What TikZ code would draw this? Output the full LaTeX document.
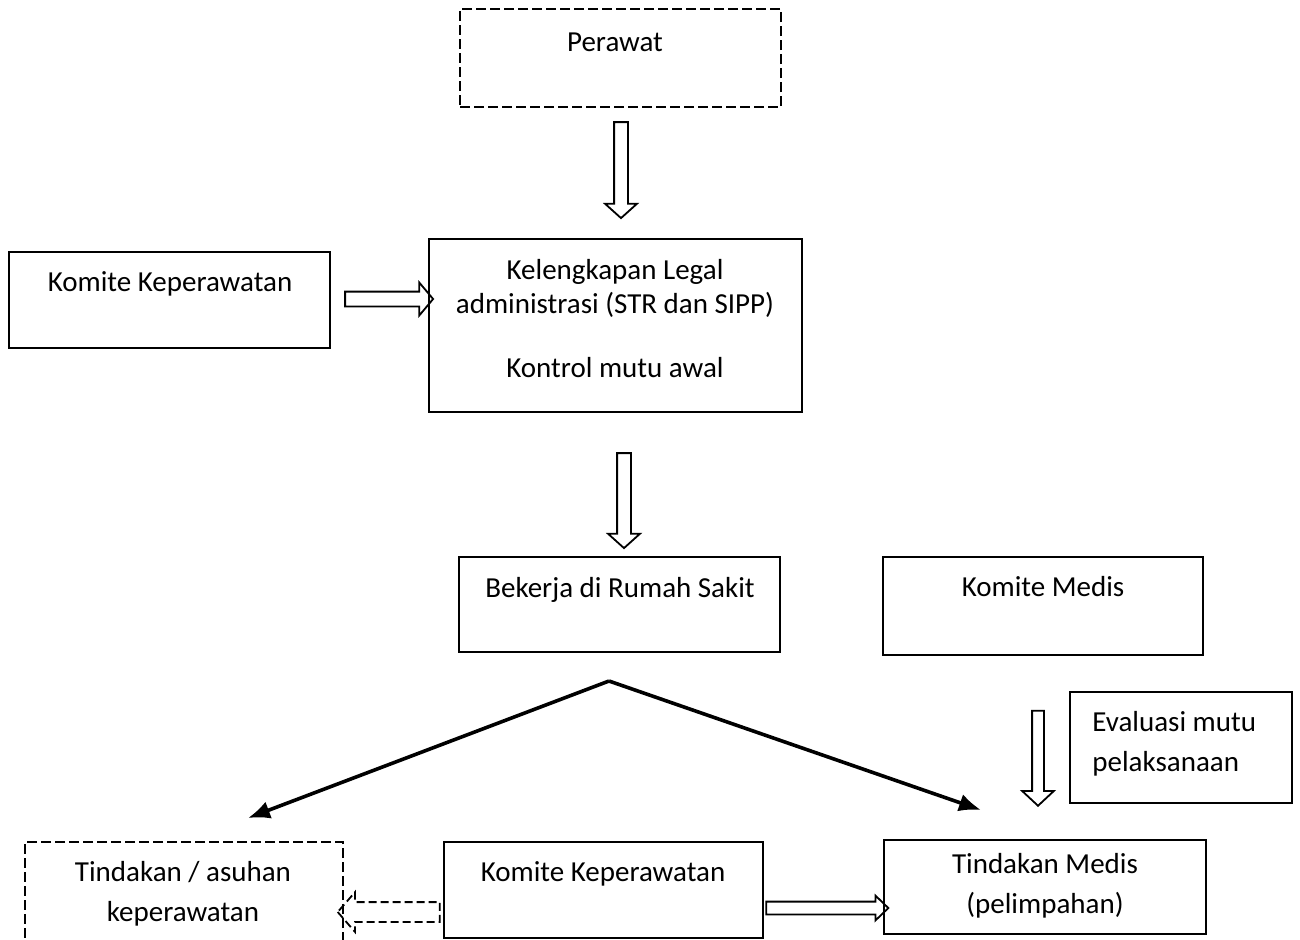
\documentclass[tikz,border=0pt]{standalone}
\usepackage{fontspec}
\setmainfont{Carlito}
\usetikzlibrary{arrows.meta,shapes.arrows}

\begin{document}
\begin{tikzpicture}[x=0.5pt,y=-0.5pt,every node/.style={font=\fontsize{14.5}{17}\selectfont}]
  \tikzset{
    box/.style={draw,line width=1.2pt,inner sep=0pt},
    dbox/.style={box,dash pattern=on 5pt off 2pt},
    txt/.style={inner sep=0pt,text height=9.3pt,text depth=0pt},
    hollow/.style={single arrow,draw,line width=0.9pt,minimum width=0pt,outer sep=0pt},
    down/.style={hollow,shape border rotate=270}
  }
  \useasboundingbox (0,0) rectangle (1300,939);
  \clip (0,0) rectangle (1300,939);
  % boxes
  \node[dbox,minimum width=160.5pt,minimum height=49pt] (perawat) at (620.5,58) {};
  \node[txt] (perawatT) at (615,42) {Perawat};
  \node[box,minimum width=186.5pt,minimum height=86.5pt] (legal) at (615.5,325.5) {};
  \node[txt] (legalA) at (615,270) {Kelengkapan Legal};
  \node[txt] (legalB) at (615,304) {administrasi (STR dan SIPP)};
  \node[txt] (legalC) at (615,368) {Kontrol mutu awal};
  \node[box,minimum width=160.5pt,minimum height=48pt] (komiteA) at (169.5,300) {};
  \node[txt] (komiteAT) at (170,282) {Komite Keperawatan};
  \node[box,minimum width=160.5pt,minimum height=47.5pt] (bekerja) at (619.5,604.5) {};
  \node[txt] (bekerjaT) at (620,588) {Bekerja di Rumah Sakit};
  \node[box,minimum width=160pt,minimum height=49pt] (medis) at (1043,606) {};
  \node[txt] (medisT) at (1043,587) {Komite Medis};
  \node[draw,line width=0.6pt,inner sep=0pt,minimum width=111pt,minimum height=55.5pt] (evaluasi) at (1181,747.5) {};
  \node[txt,anchor=west] (evaluasiA) at (1092,722) {Evaluasi mutu};
  \node[txt,anchor=west] (evaluasiB) at (1092,762) {pelaksanaan};
  \node[dbox,minimum width=159pt,minimum height=59pt] (asuhan) at (184,901) {};
  \node[txt] (asuhanA) at (183,872) {Tindakan / asuhan};
  \node[txt] (asuhanB) at (183,912) {keperawatan};
  \node[box,minimum width=159.5pt,minimum height=48pt] (komiteB) at (603.5,890) {};
  \node[txt] (komiteBT) at (603,872) {Komite Keperawatan};
  \node[box,minimum width=161pt,minimum height=47pt] (tindakan) at (1045,887) {};
  \node[txt] (tindakanA) at (1045,864) {Tindakan Medis};
  \node[txt] (tindakanB) at (1045,904) {(pelimpahan)};
  % hollow arrows
  \node[down,inner sep=3pt,minimum height=48pt,single arrow head extend=4.5pt,single arrow tip angle=96] (arrowA) at (621,167) {};
  \node[hollow,inner sep=3.25pt,minimum height=44pt,single arrow head extend=4.5pt,single arrow tip angle=100] (arrowB) at (386,299) {};
  \node[down,inner sep=3pt,minimum height=47.5pt,single arrow head extend=4.5pt,single arrow tip angle=96] (arrowC) at (624,497.5) {};
  \node[down,inner sep=2.5pt,minimum height=47.5pt,single arrow head extend=5pt,single arrow tip angle=94] (arrowD) at (1038,755.5) {};
  \node[hollow,shape border rotate=180,dash pattern=on 4pt off 2pt,inner sep=4.5pt,minimum height=51pt,single arrow head extend=5pt,single arrow tip angle=98] (arrowE) at (393,912) {};
  \node[hollow,inner sep=2.75pt,minimum height=61pt,single arrow head extend=3pt,single arrow tip angle=88] (arrowF) at (824,908) {};
  % split
  \coordinate (split) at (609,681);
  \coordinate (toAsuhan) at (248,818);
  \coordinate (toMedis) at (981,810);
  \draw[line width=1.8pt,-{Latex[length=11pt,width=9pt]}] (split) -- (toAsuhan);
  \draw[line width=1.8pt,-{Latex[length=11pt,width=9pt]}] (split) -- (toMedis);
\end{tikzpicture}
\end{document}
